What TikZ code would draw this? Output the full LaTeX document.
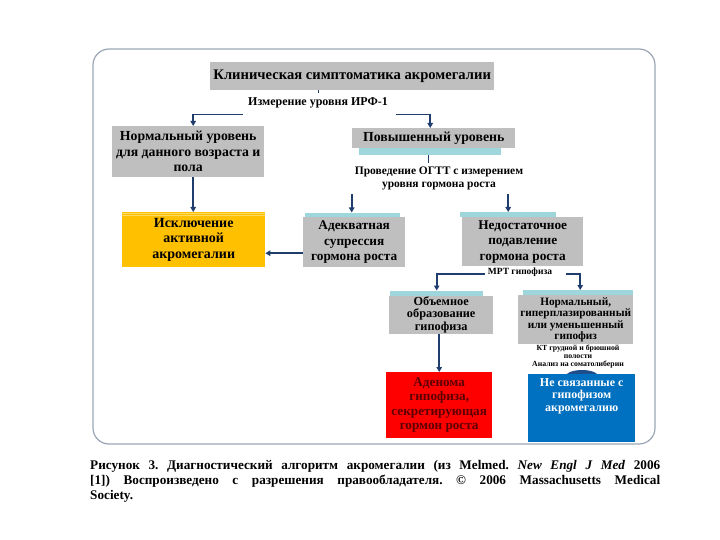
\documentclass[tikz,border=0pt]{standalone}
\usepackage{fontspec}
\setmainfont{Liberation Serif}
\usetikzlibrary{arrows.meta,calc}
\definecolor{boxgray}{HTML}{BFBFBF}
\definecolor{teal}{HTML}{9ED6DC}
\definecolor{orng}{HTML}{FFC000}
\definecolor{orngl}{HTML}{FFD966}
\definecolor{redbox}{HTML}{FF0000}
\definecolor{redtext}{HTML}{5C0000}
\definecolor{bluebox}{HTML}{0070C0}
\definecolor{bluedark}{HTML}{1F4E8C}
\definecolor{navy}{HTML}{1F3D6D}
\definecolor{framec}{HTML}{9AA6B6}
\newcommand{\fs}[2]{\fontsize{#1}{#2}\selectfont}
\frenchspacing
\begin{document}
\begin{tikzpicture}[x=1pt,y=-1pt,
  box/.style={rectangle, inner sep=0pt, anchor=north west, align=center, font=\bfseries},
  gbox/.style={box, fill=boxgray},
  strip/.style={rectangle, inner sep=0pt, anchor=north west, fill=teal},
  lbl/.style={inner sep=0pt, align=center, font=\bfseries},
  arr/.style={draw=navy, line width=1.9pt, -{Triangle[length=5pt,width=5.5pt]}},
  conn/.style={draw=navy, line width=1.2pt},
]
\useasboundingbox (0,0) rectangle (720,540);
\draw[framec, line width=1.2pt, rounded corners=16pt] (93,49) rectangle (655,444);

% title
\node[gbox, minimum width=284pt, minimum height=28pt, font=\bfseries\fs{14.6}{16}] (title) at (210,62) {Клиническая симптоматика акромегалии};
\node[lbl, font=\bfseries\fs{12}{13}] (irf) at (318,103) {Измерение уровня ИРФ-1};

% level 1
\node[gbox, minimum width=152pt, minimum height=51pt, font=\bfseries\fs{13.8}{15.5}] (norm) at (112,126) {Нормальный уровень\\для данного возраста и\\пола};
\node[gbox, minimum width=163pt, minimum height=20pt, font=\bfseries\fs{13.8}{15}] (incr) at (352,128) {Повышенный уровень};
\node[strip, minimum width=142pt, minimum height=7pt] (incrS) at (359,148) {};
\node[lbl, font=\bfseries\fs{11.5}{13}] (ogtt) at (439,178.5) {Проведение ОГТТ с измерением\\уровня гормона роста};

% level 2
\node[box, fill=orng, minimum width=143pt, minimum height=55pt, font=\bfseries\fs{14}{15.5}] (excl) at (122,212) {Исключение\\активной\\акромегалии};
\draw[orngl, line width=0.8pt] ([yshift=-1.2pt]excl.north west) -- ([yshift=-1.2pt]excl.north east);
\draw[orngl, line width=0.8pt] ([yshift=-3.2pt]excl.north west) -- ([yshift=-3.2pt]excl.north east);
\node[strip, minimum width=95pt, minimum height=4.5pt] (adeqS) at (305,212.5) {};
\node[gbox, minimum width=102pt, minimum height=50pt, font=\bfseries\fs{13.3}{15.5}] (adeq) at (303,217) {Адекватная\\супрессия\\гормона роста};
\node[strip, minimum width=96pt, minimum height=5pt] (insufS) at (460,212) {};
\node[gbox, minimum width=121pt, minimum height=49pt, font=\bfseries\fs{13.3}{15.5}] (insuf) at (462,217) {Недостаточное\\подавление\\гормона роста};
\node[lbl, font=\bfseries\fs{9.5}{11}] (mrt) at (520,272) {МРТ гипофиза};

% level 3
\node[strip, minimum width=93pt, minimum height=5pt] (objS) at (390,290.5) {};
\node[gbox, minimum width=104pt, minimum height=38pt, font=\bfseries\fs{12.3}{12.5}] (obj) at (389,295.5) {Объемное\\образование\\гипофиза};
\node[strip, minimum width=110pt, minimum height=5pt] (nrmS) at (523,290) {};
\node[gbox, minimum width=115pt, minimum height=49pt, font=\bfseries\fs{11.3}{11.4}] (nrm) at (518,295) {Нормальный,\\гиперплазированный\\или уменьшенный\\гипофиз};
\node[lbl, font=\bfseries\fs{7.8}{8}] (kt) at (578,357) {КТ грудной и брюшной\\полости\\Анализ на соматолиберин};

% level 4
\node[box, fill=redbox, text=redtext, minimum width=106pt, minimum height=66pt, font=\bfseries\fs{13.2}{14.5}] (aden) at (386,372) {Аденома\\гипофиза,\\секретирующая\\гормон роста};
\fill[bluedark] (582,377) ellipse (17pt and 7pt);
\node[box, fill=bluebox, minimum width=107pt, minimum height=68pt] (blue) at (528,374) {};
\node[lbl, text=white, anchor=north, font=\bfseries\fs{12}{12.8}] (bluet) at ([yshift=-4pt]blue.north) {Не связанные с\\гипофизом\\акромегалию};

% connectors
\draw[navy, line width=1pt] (title.south -| irf) -- ++(0,3);
\draw[arr] ($(irf.south west)+(-5,6)$) -| ([xshift=5pt]norm.north);
\draw[arr] ($(irf.south east)+(8,6)$) -| ([xshift=-3.5pt]incr.north);
\draw[navy, line width=1pt] ([xshift=-2pt]incrS.south) -- ++(0,8);
\draw[arr] ([xshift=5pt]norm.south) -- ([xshift=5pt]norm.south |- excl.north);
\draw[arr] ($(ogtt.south -| adeqS.north)+(-1,4)$) -- ([xshift=-1pt]adeqS.north);
\draw[arr] ($(ogtt.south -| insufS.north)+(0,4)$) -- (insufS.north);
\draw[arr] ([yshift=-11pt]adeq.west) -- ([yshift=-11pt]adeq.west -| excl.east);
\draw[arr] ($(mrt.west)+(-3,2)$) -| (objS.north);
\draw[arr] ($(mrt.east)+(14,2)$) -| ([xshift=2pt]nrmS.north);
\draw[arr] ([xshift=-2pt]obj.south) -- ([xshift=-2pt]obj.south |- aden.north);

% caption
\node[inner sep=0pt, anchor=north west, text width=570pt, align=justify, font=\bfseries\fs{13.2}{15}] (cap) at (90,460) {Рисунок 3. Диагностический алгоритм акромегалии (из Melmed. \textit{New Engl J Med} 2006\linebreak{} {[1])} Воспроизведено с разрешения правообладателя. © 2006 Massachusetts Medical\linebreak{} Society.};
\end{tikzpicture}
\end{document}
